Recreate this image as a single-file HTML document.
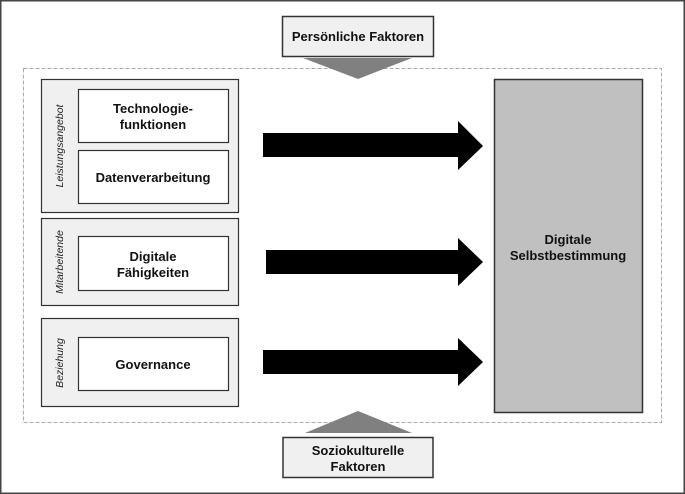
<!DOCTYPE html>
<html><head><meta charset="utf-8"><style>
html,body{margin:0;padding:0;background:#fff;}
svg{display:block;}
text{font-family:"Liberation Sans",Arial,sans-serif;}
.b{font-weight:bold;font-size:13px;fill:#111;}
.i{font-style:italic;font-size:10.5px;fill:#222;}
</style></head><body>
<svg width="685" height="494" viewBox="0 0 685 494" xmlns="http://www.w3.org/2000/svg">
<rect x="0.75" y="0.75" width="683.5" height="492.5" fill="#fff" stroke="#444" stroke-width="1.5"/>
<rect x="23.5" y="68.5" width="638" height="354" fill="none" stroke="#aaa" stroke-width="1" stroke-dasharray="4,2"/>
<!-- top -->
<polygon points="303,58 412,58 358,79" fill="#808080"/>
<rect x="282.5" y="16.5" width="151" height="40" fill="#f0f0f0" stroke="#333" stroke-width="1.5"/>
<text class="b" x="358" y="41" text-anchor="middle">Persönliche Faktoren</text>
<!-- bottom -->
<polygon points="305,433 412,433 358,411" fill="#808080"/>
<rect x="283" y="437.5" width="150" height="40" fill="#f0f0f0" stroke="#333" stroke-width="1.5"/>
<text class="b" x="358" y="455" text-anchor="middle">Soziokulturelle</text>
<text class="b" x="358" y="471" text-anchor="middle">Faktoren</text>
<!-- groups -->
<rect x="41.5" y="79.5" width="197" height="133" fill="#f0f0f0" stroke="#333" stroke-width="1.2"/>
<rect x="78.5" y="89.5" width="150" height="53" fill="#fff" stroke="#333" stroke-width="1.2"/>
<rect x="78.5" y="150.5" width="150" height="53" fill="#fff" stroke="#333" stroke-width="1.2"/>
<text class="b" x="153" y="113" text-anchor="middle">Technologie-</text>
<text class="b" x="153" y="129" text-anchor="middle">funktionen</text>
<text class="b" x="153" y="182" text-anchor="middle">Datenverarbeitung</text>
<text class="i" transform="translate(63,146) rotate(-90)" text-anchor="middle">Leistungsangebot</text>

<rect x="41.5" y="218.5" width="197" height="87" fill="#f0f0f0" stroke="#333" stroke-width="1.2"/>
<rect x="78.5" y="236.5" width="150" height="54" fill="#fff" stroke="#333" stroke-width="1.2"/>
<text class="b" x="153" y="261" text-anchor="middle">Digitale</text>
<text class="b" x="153" y="277" text-anchor="middle">Fähigkeiten</text>
<text class="i" transform="translate(63,262) rotate(-90)" text-anchor="middle">Mitarbeitende</text>

<rect x="41.5" y="318.5" width="197" height="88" fill="#f0f0f0" stroke="#333" stroke-width="1.2"/>
<rect x="78.5" y="337.5" width="150" height="53" fill="#fff" stroke="#333" stroke-width="1.2"/>
<text class="b" x="153" y="369" text-anchor="middle">Governance</text>
<text class="i" transform="translate(63,363) rotate(-90)" text-anchor="middle">Beziehung</text>
<!-- arrows -->
<polygon points="263,133 458,133 458,121 483,146 458,170 458,157 263,157" fill="#000"/>
<polygon points="266,250 458,250 458,238 483,262 458,286 458,274 266,274" fill="#000"/>
<polygon points="263,350 458,350 458,338 483,362 458,386 458,374 263,374" fill="#000"/>
<!-- big box -->
<rect x="494.5" y="79.5" width="148" height="333" fill="#c0c0c0" stroke="#333" stroke-width="1.5"/>
<text class="b" x="568" y="244" text-anchor="middle">Digitale</text>
<text class="b" x="568" y="260" text-anchor="middle">Selbstbestimmung</text>
</svg>
</body></html>
